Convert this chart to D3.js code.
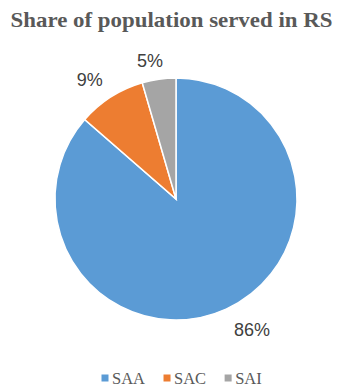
<!DOCTYPE html>
<html><head><meta charset="utf-8">
<script src="https://cdn.jsdelivr.net/npm/d3@7"></script>
<style>body{margin:0;background:#fff}</style>
</head><body>
<svg id="c" width="342" height="388"></svg>
<script>
const categories = ["SAA", "SAC", "SAI"];
const values = [86.4, 9.1, 4.5];
const labels = ["86%", "9%", "5%"];
const colors = ["#5B9BD5", "#ED7D31", "#A5A5A5"];
const title = "Share of population served in RS";

const svg = d3.select("#c");
const cx = 176, cy = 199, r = 121;

svg.append("text").attr("x", 171.5).attr("y", 27).attr("text-anchor", "middle")
  .attr("font-family", "Liberation Serif, serif").attr("font-weight", "bold")
  .attr("font-size", 22).attr("fill", "#595959").attr("textLength", 322)
  .attr("lengthAdjust", "spacingAndGlyphs").text(title);

const data = categories.map((c, i) => ({c, v: values[i], l: labels[i], col: colors[i]}));
const pie = d3.pie().value(d => d.v).sort(null);
const arcs = pie(data);
const arc = d3.arc().innerRadius(0).outerRadius(r);
const g = svg.append("g").attr("transform", `translate(${cx},${cy})`);
g.selectAll("path").data(arcs).join("path").attr("d", arc)
  .attr("fill", d => d.data.col).attr("stroke", "#fff").attr("stroke-width", 1.5);

// label placement (best-fit style): radius from centre and small angular nudge
const labelR = [151.5, 147, 140];
const angShift = [-0.098, -0.059, -0.046];
g.selectAll("text.lbl").data(arcs).join("text").attr("class", "lbl")
  .attr("transform", (d, i) => {
    const a = (d.startAngle + d.endAngle) / 2 + angShift[i];
    return `translate(${Math.sin(a) * labelR[i]},${-Math.cos(a) * labelR[i]})`;
  })
  .attr("text-anchor", "middle").attr("dominant-baseline", "central")
  .attr("font-family", "Liberation Sans, Arial, sans-serif").attr("font-size", 18)
  .attr("fill", "#404040").text(d => d.data.l);

const lg = svg.append("g").attr("transform", "translate(0,378)");
let x = 105;
data.forEach(d => {
  const it = lg.append("g").attr("transform", `translate(${x},0)`);
  it.append("rect").attr("x", -3.5).attr("y", -3.5).attr("width", 7).attr("height", 7)
    .attr("fill", d.col);
  const t = it.append("text").attr("x", 7).attr("y", 0).attr("dominant-baseline", "central")
    .attr("font-family", "Liberation Serif, serif").attr("font-size", 16.5)
    .attr("fill", "#595959").text(d.c);
  x += 7 + t.node().getComputedTextLength() + 22;
});
</script>
</body></html>
